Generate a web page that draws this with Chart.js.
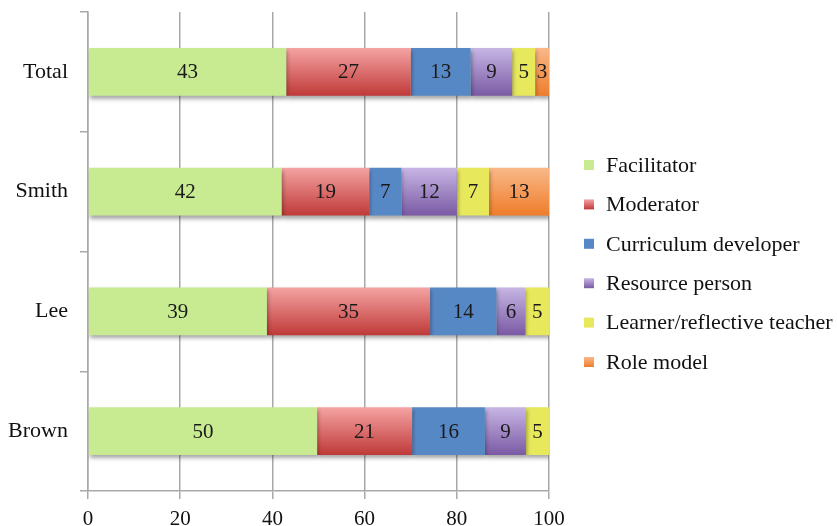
<!DOCTYPE html>
<html>
<head>
<meta charset="utf-8">
<script src="https://cdn.jsdelivr.net/npm/chart.js@4/dist/chart.umd.min.js"></script>
<style>
  html, body { margin: 0; padding: 0; background: #fff; }
</style>
</head>
<body>
<canvas id="grafica" width="837" height="526"></canvas>
<script>
// Datos
const categorias = ['Total', 'Smith', 'Lee', 'Brown'];
const facilitator = [43, 42, 38.8, 49.7];
const moderator = [27, 19, 35.4, 20.6];
const curriculum = [13, 7, 14.4, 15.8];
const resource = [9, 12, 6.3, 8.9];
const learner = [5, 7, 5.1, 5.0];
const roleModel = [3, 13, null, null];
const ticksX = [0, 20, 40, 60, 80, 100];

const fuente = 'Liberation Serif, Times New Roman, serif';

// colores: [claro arriba, oscuro abajo]
const colores = [
    ['#c8eb92', '#c8eb92'],
    ['#f5a3a3', '#bf3a38'],
    ['#5788c6', '#5788c6'],
    ['#c7b6e4', '#7a5aa4'],
    ['#e8e85c', '#e8e85c'],
    ['#f9b889', '#ef7d2a']
];

// degradado vertical por barra
function degradado(claro, oscuro) {
    return (ctx) => {
        const chart = ctx.chart;
        const escala = chart.scales && chart.scales.y;
        if (!chart.chartArea || !escala || ctx.type !== 'data') return oscuro;
        const yc = escala.getPixelForValue(ctx.dataIndex);
        const h = (escala.height / categorias.length) * 0.4;
        if (!Number.isFinite(yc) || !Number.isFinite(h)) return oscuro;
        const g = chart.ctx.createLinearGradient(0, yc - h / 2, 0, yc + h / 2);
        g.addColorStop(0, claro);
        g.addColorStop(1, oscuro);
        return g;
    };
}

// sombra suave bajo las barras
const sombra = {
    id: 'sombra',
    beforeDatasetsDraw(chart) {
        const c = chart.ctx;
        c.save();
        c.shadowColor = 'rgba(0,0,0,0.35)';
        c.shadowBlur = 4;
        c.shadowOffsetX = 1;
        c.shadowOffsetY = 3;
    },
    afterDatasetsDraw(chart) {
        chart.ctx.restore();
    }
};

// etiquetas dentro de las barras
const etiquetas = {
    id: 'etiquetas',
    afterDatasetsDraw(chart) {
        const ctx = chart.ctx;
        ctx.save();
        ctx.font = '21px ' + fuente;
        ctx.fillStyle = '#1a1a1a';
        ctx.textAlign = 'center';
        ctx.textBaseline = 'middle';
        chart.data.datasets.forEach((ds, i) => {
            const meta = chart.getDatasetMeta(i);
            meta.data.forEach((bar, j) => {
                const v = ds.data[j];
                if (v === null || v === undefined) return;
                ctx.fillText(Math.round(v), (bar.x + bar.base) / 2, bar.y + 1);
            });
        });
        ctx.restore();
    }
};

// leyenda a la derecha
const leyenda = {
    id: 'leyenda',
    afterDraw(chart) {
        const ctx = chart.ctx;
        const area = chart.chartArea;
        const paso = 39.4;
        const n = chart.data.datasets.length;
        const y0 = (area.top + area.bottom) / 2 + 12 - paso * (n - 1) / 2;
        const xCaja = area.right + 35;
        ctx.save();
        ctx.font = '22px ' + fuente;
        ctx.textBaseline = 'middle';
        ctx.textAlign = 'left';
        chart.data.datasets.forEach((ds, i) => {
            const y = y0 + i * paso;
            const g = ctx.createLinearGradient(0, y - 5, 0, y + 5);
            g.addColorStop(0, colores[i][0]);
            g.addColorStop(1, colores[i][1]);
            ctx.fillStyle = g;
            ctx.fillRect(xCaja, y - 5, 10, 10);
            ctx.fillStyle = '#111';
            ctx.fillText(ds.label, xCaja + 22, y + 1);
        });
        ctx.restore();
    }
};

const ctx = document.getElementById('grafica').getContext('2d');
new Chart(ctx, {
    type: 'bar',
    data: {
        labels: categorias,
        datasets: [
            { label: 'Facilitator', data: facilitator, backgroundColor: colores[0][0] },
            { label: 'Moderator', data: moderator, backgroundColor: degradado(colores[1][0], colores[1][1]) },
            { label: 'Curriculum developer', data: curriculum, backgroundColor: colores[2][0] },
            { label: 'Resource person', data: resource, backgroundColor: degradado(colores[3][0], colores[3][1]) },
            { label: 'Learner/reflective teacher', data: learner, backgroundColor: colores[4][0] },
            { label: 'Role model', data: roleModel, backgroundColor: degradado(colores[5][0], colores[5][1]) }
        ]
    },
    options: {
        indexAxis: 'y',
        responsive: false,
        animation: false,
        categoryPercentage: 0.4,
        barPercentage: 1,
        layout: { padding: { top: 0, right: 288, left: 0, bottom: 0 } },
        scales: {
            x: {
                stacked: true,
                min: 0,
                max: 100,
                afterBuildTicks: (axis) => { axis.ticks = ticksX.map(v => ({ value: v })); },
                afterFit: (axis) => { axis.height = 35; },
                grid: { color: '#a8a8a8', lineWidth: 1.5, tickLength: 8 },
                border: { color: '#a8a8a8', width: 1.5 },
                ticks: { font: { family: fuente, size: 21 }, color: '#111', padding: 8 }
            },
            y: {
                stacked: true,
                afterFit: (axis) => { axis.width = 88; axis.paddingTop = 12; axis.paddingBottom = 0; },
                grid: { drawOnChartArea: false, color: '#a8a8a8', lineWidth: 1.5, tickLength: 8 },
                border: { color: '#a8a8a8', width: 1.5 },
                ticks: { font: { family: fuente, size: 22 }, color: '#111', padding: 12 }
            }
        },
        plugins: {
            legend: { display: false },
            tooltip: { enabled: false }
        }
    },
    plugins: [sombra, etiquetas, leyenda]
});
</script>
</body>
</html>
